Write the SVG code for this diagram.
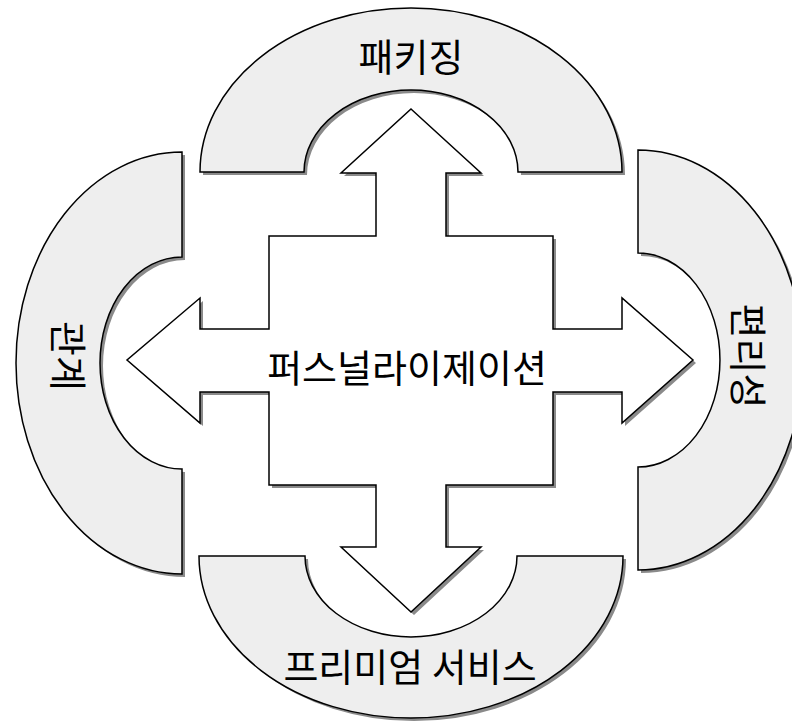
<svg xmlns="http://www.w3.org/2000/svg" width="792" height="721" viewBox="0 0 792 721">
<defs>
<style>
.shadow{fill:#8a8a8a;stroke:none}
.arch{fill:#eeeeee;stroke:#000;stroke-width:1.5;stroke-linejoin:miter}
.cross{fill:#ffffff;stroke:#000;stroke-width:1.5;stroke-linejoin:miter}
.lbl{font-family:"Noto Sans CJK KR","Noto Sans CJK SC",sans-serif;font-size:38px;fill:#000;text-anchor:middle;dominant-baseline:central}
</style>
</defs>
<rect width="792" height="721" fill="#ffffff"/>
<g id="arch-top">
<path class="shadow" transform="translate(3,3)" d="M200,172 A211,164 0 0 1 622,172 L518,172 A107,82 0 0 0 304,172 Z"/>
<path class="arch" d="M200,172 A211,164 0 0 1 622,172 L518,172 A107,82 0 0 0 304,172 Z"/>
<text class="lbl" x="411" y="54">패키징</text>
</g>
<g id="arch-bottom">
<path class="shadow" transform="translate(3,3)" d="M199,556 A212,162 0 0 0 623,556 L517,556 A106,81 0 0 1 305,556 Z"/>
<path class="arch" d="M199,556 A212,162 0 0 0 623,556 L517,556 A106,81 0 0 1 305,556 Z"/>
<text class="lbl" x="410" y="664">프리미엄 서비스</text>
</g>
<g id="arch-left">
<path class="shadow" transform="translate(3,3)" d="M182,152 A166,211 0 0 0 182,574 L182,469 A82,106 0 0 1 182,257 Z"/>
<path class="arch" d="M182,152 A166,211 0 0 0 182,574 L182,469 A82,106 0 0 1 182,257 Z"/>
<text class="lbl" x="70" y="356" transform="rotate(90 70 356)">관계</text>
</g>
<g id="arch-right">
<path class="shadow" transform="translate(3,3)" d="M638,150 A165,210 0 0 1 638,570 L638,467 A82,107 0 0 0 638,253 Z"/>
<path class="arch" d="M638,150 A165,210 0 0 1 638,570 L638,467 A82,107 0 0 0 638,253 Z"/>
<text class="lbl" x="750" y="356" transform="rotate(90 750 356)">편리성</text>
</g>
<g id="center">
<polygon class="shadow" transform="translate(3,3)" points="411,109 481,173 446,173 446,236 553,236 553,329 622,329 622,298 693,360 622,423 622,392 553,392 553,485 446,485 446,547 481,547 411,612 341,547 376,547 376,485 269,485 269,392 200,392 200,423 127,360 200,298 200,329 269,329 269,236 376,236 376,173 341,173"/>
<polygon class="cross" points="411,109 481,173 446,173 446,236 553,236 553,329 622,329 622,298 693,360 622,423 622,392 553,392 553,485 446,485 446,547 481,547 411,612 341,547 376,547 376,485 269,485 269,392 200,392 200,423 127,360 200,298 200,329 269,329 269,236 376,236 376,173 341,173"/>
<text class="lbl" x="407" y="365">퍼스널라이제이션</text>
</g>
</svg>
